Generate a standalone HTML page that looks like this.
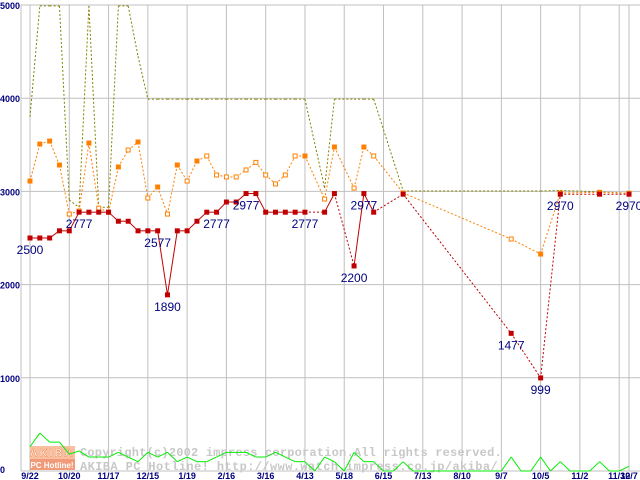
<!DOCTYPE html>
<html><head><meta charset="utf-8">
<style>
html,body{margin:0;padding:0;background:#fff;width:640px;height:480px;overflow:hidden}
svg{display:block}
</style></head>
<body>
<svg id="chart" width="640" height="480" viewBox="0 0 640 480" xmlns="http://www.w3.org/2000/svg" font-family="Liberation Sans, sans-serif">
<g id="grid"></g>
<g id="watermark">
  <rect x="30" y="446" width="45" height="13" fill="#f8c0a0"/>
  <text x="52" y="456.5" font-size="11" font-weight="bold" fill="#fff" stroke="#f09060" stroke-width="0.6" text-anchor="middle" letter-spacing="2">AKIBA</text>
  <rect x="30" y="459" width="45" height="11" fill="#f09a78"/>
  <text x="52" y="468" font-size="8" font-weight="bold" fill="#fff" text-anchor="middle">PC Hotline!</text>
  <text x="80" y="456" font-family="Liberation Mono, monospace" font-size="12" font-weight="bold" fill="#c8c8c8" letter-spacing="0.2">Copyright(c)2002 impress corporation.All rights reserved.</text>
  <text x="80" y="470" font-family="Liberation Mono, monospace" font-size="12" font-weight="bold" fill="#c8c8c8" letter-spacing="0.4">AKIBA PC Hotline! http://www.watch.impress.co.jp/akiba/</text>
</g>
<g id="series"></g>
<g id="labels"></g>
</svg>
<script>
var xTickIdx = [0,4,8,12,16,20,24,28,32,36,40,44,48,52,56,60,61];
var xTickLabels = ["9/22","10/20","11/17","12/15","1/19","2/16","3/16","4/13","5/18","6/15","7/13","8/10","9/7","10/5","11/2","11/30","12/7"];
var yTicks = [0,1000,2000,3000,4000,5000];
var N = 62;
var _ = null;
var redVals = [2500,2500,2500,2577,2577,2777,2777,2777,2777,2680,2680,2577,2577,2577,1890,2577,2577,2680,2777,2777,2886,2886,2977,2977,2777,2777,2777,2777,2777,_,2777,2977,_,2200,2977,2777,_,_,2970,_,_,_,_,_,_,_,_,_,_,1477,_,_,999,_,2970,_,_,_,2970,_,_,2970];
var redLabelIdx = [0,5,13,14,19,22,28,33,34,49,52,54,61];
var orangeVals = [3111,3508,3540,3283,2757,2790,3519,2820,2777,3262,3444,3530,2929,3047,2757,3283,3111,3326,3380,3176,3155,3155,3230,3311,3176,3080,3176,3380,3380,_,2918,3476,_,3036,3476,3380,_,_,2983,_,_,_,_,_,_,_,_,_,_,2489,_,_,2328,_,2983,_,_,_,2990,_,_,2980];
var orangeFilled = [1,1,1,1,0,0,1,0,0,1,0,1,0,1,0,1,0,1,0,0,0,0,0,0,0,0,0,0,1,0,0,1,0,0,1,0,0,0,1,0,0,0,0,0,0,0,0,0,0,0,0,0,1,0,1,0,0,0,1,0,0,1];
var oliveVals = [3800,4990,4990,4990,2907,2830,4990,2830,2830,4990,4990,4450,3990,3990,3990,3990,3990,3990,3990,3990,3990,3990,3990,3990,3990,3990,3990,3990,3990,_,3036,3990,_,3990,3990,3990,_,_,3004,_,_,_,_,_,_,_,_,_,_,3004,_,_,3004,_,3010,_,_,_,2995,_,_,2980];
var greenVals = [260,407,310,310,180,215,150,150,150,200,150,100,200,150,200,100,150,100,100,150,200,200,200,150,150,200,150,100,100,0,150,100,0,200,100,100,0,0,100,0,0,0,0,0,0,0,0,0,0,150,0,0,150,0,100,0,0,0,100,0,0,50];

var NS="http://www.w3.org/2000/svg";
function xs(i){return 30+i*9.82;}
function ys(v){return 471-v*0.0932;}
function mk(tag,attrs,parent){var e=document.createElementNS(NS,tag);for(var k in attrs)e.setAttribute(k,attrs[k]);parent.appendChild(e);return e;}
var grid=document.getElementById('grid'),ser=document.getElementById('series'),lab=document.getElementById('labels');

var e;
yTicks.forEach(function(v){
  e=mk('line',{x1:21,x2:640,y1:ys(v),y2:ys(v),stroke:'#c0c0c0','stroke-width':1},grid);
  
  
  e=mk('text',{x:0,y:v===0?ys(v)+2:ys(v)+4,'font-size':9,'font-weight':'bold',fill:'#000080'},lab);
  e.textContent=String(v);
  
  
});
e=mk('line',{x1:21,x2:21,y1:5,y2:471,stroke:'#c0c0c0','stroke-width':1},grid);


xTickIdx.forEach(function(i,k){
  e=mk('line',{x1:xs(i),x2:xs(i),y1:5,y2:471,stroke:'#c0c0c0','stroke-width':1},grid);
  
  
  e=mk('text',{x:xs(i),y:479,'font-size':9,'font-weight':'bold',fill:'#000080','text-anchor':'middle'},lab);
  e.textContent=xTickLabels[k];
  
  
});

function drawLine(vals,color,width,dashAll,name){
  var prev=-1;
  for(var i=0;i<vals.length;i++){
    if(vals[i]===null)continue;
    if(prev>=0){
      var gap=(i-prev)>1;
      var a={x1:xs(prev),y1:ys(vals[prev]),x2:xs(i),y2:ys(vals[i]),stroke:color,'stroke-width':width};
      if(dashAll||gap)a['stroke-dasharray']='2,2';
      e=mk('line',a,ser);
      
      
    }
    prev=i;
  }
}
drawLine(greenVals,'#00ee00',1,false,'green-series');
drawLine(oliveVals,'#808000',1,true,'olive-series');
drawLine(orangeVals,'#ff8000',1,true,'orange-series');
for(var i=0;i<N;i++){
  if(orangeVals[i]===null)continue;
  e=mk('rect',{x:xs(i)-2,y:ys(orangeVals[i])-2,width:4,height:4,fill:orangeFilled[i]?'#ff8000':'#fff',stroke:'#ff8000','stroke-width':1},ser);
  
  
}
drawLine(redVals,'#c00000',1,false,'red-series');
for(var i=0;i<N;i++){
  if(redVals[i]===null)continue;
  e=mk('rect',{x:xs(i)-2.5,y:ys(redVals[i])-2.5,width:5,height:5,fill:'#c00000'},ser);
  
  
}
redLabelIdx.forEach(function(i){
  e=mk('text',{x:xs(i),y:ys(redVals[i])+16,'font-size':12,fill:'#000080','text-anchor':'middle'},lab);
  e.textContent=String(redVals[i]);
  
  
});
</script>
</body></html>
